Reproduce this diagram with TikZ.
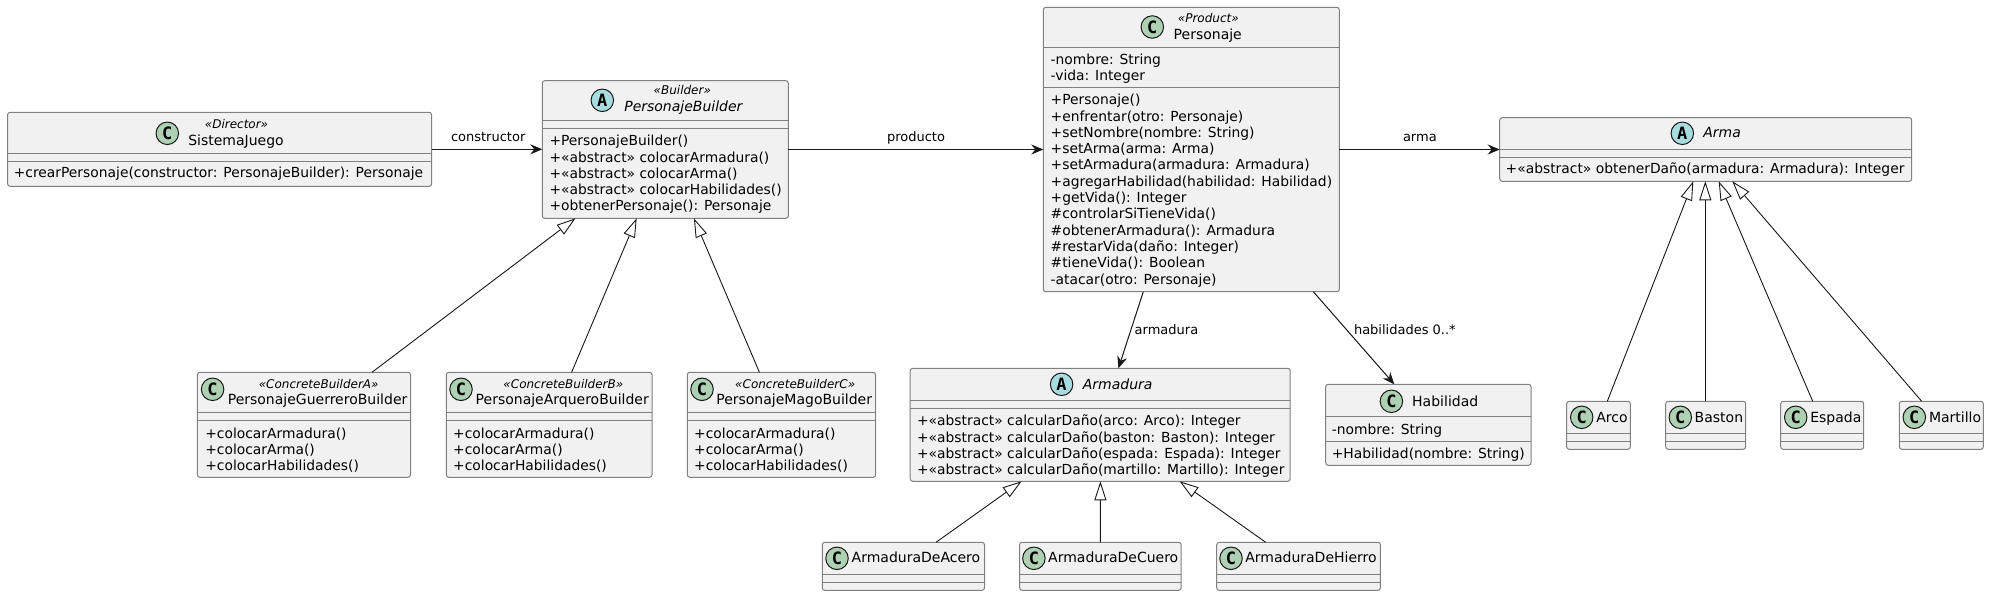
\documentclass[tikz,border=0pt]{standalone}
\usepackage{fontspec}
\setmainfont{DejaVu Sans}
\newfontfamily\iconfont{DejaVu Sans Mono}
\usetikzlibrary{arrows.meta}
\definecolor{boxfill}{HTML}{F1F1F1}
\definecolor{boxline}{HTML}{808080}
\definecolor{ink}{HTML}{181818}
\definecolor{iconC}{HTML}{ADD1B2}
\definecolor{iconA}{HTML}{A9DCDF}
\tikzset{
  classbox/.style={draw=boxline,fill=boxfill,line width=1pt,rounded corners=2.5pt,inner sep=0pt,outer sep=0pt},
  sepline/.style={draw=boxline,line width=1pt},
  member/.style={anchor=base west,inner sep=0pt,outer sep=0pt,text=black,font=\fontsize{13.85}{16}\selectfont},
  titletext/.style={member,font=\fontsize{14}{16}\selectfont},
  abstitle/.style={member,font=\fontsize{14}{16}\selectfont\itshape},
  stereo/.style={anchor=base,inner sep=0pt,outer sep=0pt,text=black,font=\fontsize{12}{14}\selectfont\itshape},
  edgelabel/.style={anchor=base west,inner sep=0pt,outer sep=0pt,text=black,font=\fontsize{13}{15}\selectfont},
  icon/.style={circle,draw=ink,line width=1pt,minimum size=22.5pt,inner sep=0pt,outer sep=0pt,text=black,font=\iconfont\bfseries\fontsize{17}{17}\selectfont},
  assoc/.style={draw=ink,line width=1pt,-{Stealth[length=12pt,width=10pt,inset=4pt]}},
  gen/.style={draw=ink,line width=0.9pt,-{Triangle[length=19pt,width=12pt,fill=white]}}
}
\newcounter{tn}
% name, x1, y1, x2, y2, sep1, sep2
\newcommand{\cls}[7]{%
  \node[classbox,minimum width={(#4-#2)*1pt},minimum height={(#5-#3)*1pt}] (#1) at ({(#2+#4)/2},{(#3+#5)/2}) {};
  \draw[sepline] (#2,#6) -- (#4,#6);
  \draw[sepline] (#2,#7) -- (#4,#7);
}
\newcommand{\txt}[4][member]{\stepcounter{tn}\node[#1] (t\thetn) at (#2,#3) {#4};}
\newcommand{\ico}[4]{\stepcounter{tn}\node[icon,fill=icon#3] (i\thetn) at (#1,#2) {#4};}
\begin{document}
\begin{tikzpicture}[x=1pt,y=-1pt]
\useasboundingbox (0,0) rectangle (1989,596);
\fill[white] (0,0) rectangle (1989,596);
% SistemaJuego
\cls{SJ}{7.6}{112.3}{431.6}{186.3}{153.3}{161.3}
\ico{167.3}{133.3}{C}{C}
\txt[stereo]{236.5}{128.7}{«Director»}
\txt[titletext]{188.3}{145.3}{SistemaJuego}
\txt{13.8}{178}{+crearPersonaje(constructor: PersonajeBuilder): Personaje}
% PersonajeBuilder
\cls{PB}{542.3}{80.7}{788.3}{218.3}{120.3}{128.3}
\ico{602.3}{100.3}{A}{A}
\txt[stereo]{682.3}{95}{«Builder»}
\txt[abstitle]{624.3}{111.7}{PersonajeBuilder}
\txt{549.5}{146}{+PersonajeBuilder()}
\txt{549.5}{162.3}{+«abstract» colocarArmadura()}
\txt{549.5}{178.5}{+«abstract» colocarArma()}
\txt{549.5}{194.7}{+«abstract» colocarHabilidades()}
\txt{549.5}{211}{+obtenerPersonaje(): Personaje}
% Personaje
\cls{P}{1043.3}{7.3}{1339.3}{291.7}{47.3}{87.7}
\ico{1152.3}{27}{C}{C}
\txt[stereo]{1208.3}{22.7}{«Product»}
\txt[titletext]{1173.7}{39.3}{Personaje}
\txt{1050.7}{64.3}{-nombre: String}
\txt{1050.7}{80.5}{-vida: Integer}
\txt{1050.7}{105}{+Personaje()}
\txt{1050.7}{121.3}{+enfrentar(otro: Personaje)}
\txt{1050.7}{137.5}{+setNombre(nombre: String)}
\txt{1050.7}{153.8}{+setArma(arma: Arma)}
\txt{1050.7}{170}{+setArmadura(armadura: Armadura)}
\txt{1050.7}{186.3}{+agregarHabilidad(habilidad: Habilidad)}
\txt{1050.7}{202.6}{+getVida(): Integer}
\txt{1050.7}{218.9}{\#controlarSiTieneVida()}
\txt{1050.7}{235.1}{\#obtenerArmadura(): Armadura}
\txt{1050.7}{251.4}{\#restarVida(daño: Integer)}
\txt{1050.7}{267.7}{\#tieneVida(): Boolean}
\txt{1050.7}{284}{-atacar(otro: Personaje)}
% Arma
\cls{Arma}{1499.7}{117.7}{1911.7}{181.3}{149.3}{157.3}
\ico{1682.3}{133.3}{A}{A}
\txt[abstitle]{1703.3}{138}{Arma}
\txt{1505.7}{174}{+«abstract» obtenerDaño(armadura: Armadura): Integer}
% Concrete builders
\cls{PGB}{197.4}{372.3}{410.5}{477.3}{412.3}{420.3}
\ico{212.6}{389.3}{C}{C}
\txt[stereo]{318.7}{388.3}{«ConcreteBuilderA»}
\txt[titletext]{227.8}{404}{PersonajeGuerreroBuilder}
\txt{205.3}{438.3}{+colocarArmadura()}
\txt{205.3}{454.5}{+colocarArma()}
\txt{205.3}{470.5}{+colocarHabilidades()}
\cls{PAB}{446.3}{372.3}{652}{477.3}{412.3}{420.3}
\ico{461}{389.3}{C}{C}
\txt[stereo]{563.4}{388.3}{«ConcreteBuilderB»}
\txt[titletext]{475.7}{404}{PersonajeArqueroBuilder}
\txt{453.2}{438.3}{+colocarArmadura()}
\txt{453.2}{454.5}{+colocarArma()}
\txt{453.2}{470.5}{+colocarHabilidades()}
\cls{PMB}{687.3}{372.3}{875.6}{477.3}{412.3}{420.3}
\ico{702}{389.3}{C}{C}
\txt[stereo]{795.2}{388.3}{«ConcreteBuilderC»}
\txt[titletext]{716.3}{404}{PersonajeMagoBuilder}
\txt{694.2}{438.3}{+colocarArmadura()}
\txt{694.2}{454.5}{+colocarArma()}
\txt{694.2}{470.5}{+colocarHabilidades()}
% Armadura
\cls{Armadura}{910.2}{368.3}{1290.2}{481.3}{400.3}{408.3}
\ico{1061.6}{384.3}{A}{A}
\txt[abstitle]{1082.9}{389.3}{Armadura}
\txt{917.1}{425.3}{+«abstract» calcularDaño(arco: Arco): Integer}
\txt{917.1}{442}{+«abstract» calcularDaño(baston: Baston): Integer}
\txt{917.1}{458}{+«abstract» calcularDaño(espada: Espada): Integer}
\txt{917.1}{474}{+«abstract» calcularDaño(martillo: Martillo): Integer}
% Habilidad
\cls{Hab}{1325.7}{384.3}{1531}{465.3}{416.3}{441.3}
\ico{1391.4}{401.3}{C}{C}
\txt[titletext]{1412.2}{406}{Habilidad}
\txt{1331.8}{434.3}{-nombre: String}
\txt{1331.8}{458}{+Habilidad(nombre: String)}
% Armadura children
\cls{ADA}{822.3}{542.3}{984.5}{590.3}{574.3}{582.3}
\ico{837}{558.3}{C}{C}
\txt[titletext]{851.7}{562.7}{ArmaduraDeAcero}
\cls{ADC}{1019.6}{542.3}{1181.2}{590.3}{574.3}{582.3}
\ico{1033.9}{558.3}{C}{C}
\txt[titletext]{1048.2}{562.7}{ArmaduraDeCuero}
\cls{ADH}{1216.7}{542.3}{1380.4}{590.3}{574.3}{582.3}
\ico{1231}{558.3}{C}{C}
\txt[titletext]{1245.3}{562.7}{ArmaduraDeHierro}
% Arma children
\cls{Arco}{1566.7}{401.3}{1630.3}{449.3}{433.3}{441.3}
\ico{1581.7}{417.3}{C}{C}
\txt[titletext]{1596.3}{422}{Arco}
\cls{Baston}{1665.7}{401.3}{1745.7}{449.3}{433.3}{441.3}
\ico{1680.3}{417.3}{C}{C}
\txt[titletext]{1694.7}{422}{Baston}
\cls{Espada}{1780.7}{401.3}{1863.7}{449.3}{433.3}{441.3}
\ico{1795.7}{417.3}{C}{C}
\txt[titletext]{1810.3}{422}{Espada}
\cls{Martillo}{1899.3}{401.3}{1983.3}{449.3}{433.3}{441.3}
\ico{1914.3}{417.3}{C}{C}
\txt[titletext]{1929}{422}{Martillo}
% Associations
\draw[assoc] (SJ.east) -- (SJ.east -| PB.west);
\draw[assoc] (PB.east) -- (PB.east -| P.west);
\draw[assoc] (P.east) -- (P.east -| Arma.west);
\draw[assoc] ([xshift=100pt]P.south west) -- ([xshift=208.2pt]Armadura.north west);
\draw[assoc] ([xshift=270pt]P.south west) -- ([xshift=68.6pt]Hab.north west);
\txt[edgelabel]{451}{142}{constructor}
\txt[edgelabel]{887}{141.7}{producto}
\txt[edgelabel]{1403}{141.7}{arma}
\txt[edgelabel]{1134.7}{334}{armadura}
\txt[edgelabel]{1354}{334}{habilidades 0..*}
% Generalizations
\draw[gen] ([xshift=174.6pt]PGB.north west) -- ([xshift=33.2pt]PB.south west);
\draw[gen] ([xshift=125.3pt]PAB.north west) -- ([xshift=94.4pt]PB.south west);
\draw[gen] ([xshift=72.1pt]PMB.north west) -- ([xshift=151.6pt]PB.south west);
\draw[gen] ([xshift=113.7pt]ADA.north west) -- ([xshift=111.4pt]Armadura.south west);
\draw[gen] ([xshift=80.8pt]ADC.north west) -- ([xshift=190.2pt]Armadura.south west);
\draw[gen] ([xshift=49pt]ADH.north west) -- ([xshift=269.4pt]Armadura.south west);
\draw[gen] ([xshift=40.6pt]Arco.north west) -- ([xshift=193.6pt]Arma.south west);
\draw[gen] ([xshift=39.6pt]Baston.north west) -- ([xshift=205.6pt]Arma.south west);
\draw[gen] ([xshift=32pt]Espada.north west) -- ([xshift=219pt]Arma.south west);
\draw[gen] ([xshift=22.4pt]Martillo.north west) -- ([xshift=232.6pt]Arma.south west);
\end{tikzpicture}
\end{document}
